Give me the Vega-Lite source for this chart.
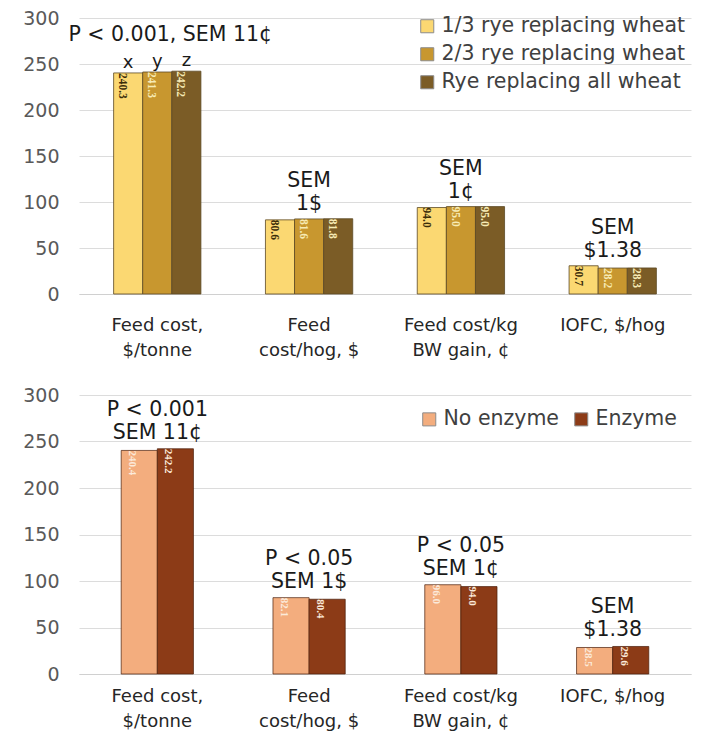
{
  "$schema": "https://vega.github.io/schema/vega-lite/v6.json",
  "background": "white",
  "padding": {"left": 22, "top": 9, "right": 5, "bottom": 5},
  "bounds": "flush",
  "spacing": 101,
  "config": {
    "view": {"stroke": null},
    "font": "DejaVu Sans",
    "axisY": {"domain": false, "ticks": false, "gridColor": "#dcdcdc", "gridWidth": 1, "labelFontSize": 19, "labelColor": "#595959", "labelPadding": 20, "title": null},
    "axisX": {"ticks": false, "domainColor": "#d0d0d0", "grid": false, "labelFontSize": 18, "labelColor": "#262626", "labelAngle": 0, "labelLineHeight": 25, "labelBaseline": "top", "title": null}
  },
  "datasets": {
    "rye": [
      {"metric": "Feed cost,|$/tonne", "series": "1/3 rye replacing wheat", "value": 240.3, "letter": "x"},
      {"metric": "Feed cost,|$/tonne", "series": "2/3 rye replacing wheat", "value": 241.3, "letter": "y"},
      {"metric": "Feed cost,|$/tonne", "series": "Rye replacing all wheat", "value": 242.2, "letter": "z"},
      {"metric": "Feed|cost/hog, $", "series": "1/3 rye replacing wheat", "value": 80.6},
      {"metric": "Feed|cost/hog, $", "series": "2/3 rye replacing wheat", "value": 81.6},
      {"metric": "Feed|cost/hog, $", "series": "Rye replacing all wheat", "value": 81.8},
      {"metric": "Feed cost/kg|BW gain, ¢", "series": "1/3 rye replacing wheat", "value": 94.0},
      {"metric": "Feed cost/kg|BW gain, ¢", "series": "2/3 rye replacing wheat", "value": 95.0},
      {"metric": "Feed cost/kg|BW gain, ¢", "series": "Rye replacing all wheat", "value": 95.0},
      {"metric": "IOFC, $/hog", "series": "1/3 rye replacing wheat", "value": 30.7},
      {"metric": "IOFC, $/hog", "series": "2/3 rye replacing wheat", "value": 28.2},
      {"metric": "IOFC, $/hog", "series": "Rye replacing all wheat", "value": 28.3}
    ],
    "ryeNotes": [
      {"metric": "Feed cost,|$/tonne", "note": "P < 0.001, SEM 11¢"},
      {"metric": "Feed|cost/hog, $", "note": "SEM\n1$"},
      {"metric": "Feed cost/kg|BW gain, ¢", "note": "SEM\n1¢"},
      {"metric": "IOFC, $/hog", "note": "SEM\n$1.38"}
    ],
    "enz": [
      {"metric": "Feed cost,|$/tonne", "series": "No enzyme", "value": 240.4},
      {"metric": "Feed cost,|$/tonne", "series": "Enzyme", "value": 242.2},
      {"metric": "Feed|cost/hog, $", "series": "No enzyme", "value": 82.1},
      {"metric": "Feed|cost/hog, $", "series": "Enzyme", "value": 80.4},
      {"metric": "Feed cost/kg|BW gain, ¢", "series": "No enzyme", "value": 96.0},
      {"metric": "Feed cost/kg|BW gain, ¢", "series": "Enzyme", "value": 94.0},
      {"metric": "IOFC, $/hog", "series": "No enzyme", "value": 28.5},
      {"metric": "IOFC, $/hog", "series": "Enzyme", "value": 29.6}
    ],
    "enzNotes": [
      {"metric": "Feed cost,|$/tonne", "note": "P < 0.001\nSEM 11¢"},
      {"metric": "Feed|cost/hog, $", "note": "P < 0.05\nSEM 1$"},
      {"metric": "Feed cost/kg|BW gain, ¢", "note": "P < 0.05\nSEM 1¢"},
      {"metric": "IOFC, $/hog", "note": "SEM\n$1.38"}
    ]
  },
  "vconcat": [
    {
      "width": 612,
      "height": 276,
      "data": {"name": "rye"},
      "encoding": {
        "x": {"field": "metric", "type": "nominal",
          "scale": {"domain": ["Feed cost,|$/tonne", "Feed|cost/hog, $", "Feed cost/kg|BW gain, ¢", "IOFC, $/hog"], "paddingInner": 0.425, "paddingOuter": 0.228},
          "axis": {"labelExpr": "split(datum.label, '|')", "labelPadding": 22}},
        "y": {"field": "value", "type": "quantitative", "scale": {"domain": [0, 300]}, "axis": {"values": [0, 50, 100, 150, 200, 250, 300]}}
      },
      "layer": [
        {
          "mark": {"type": "bar", "stroke": "#5c4a26", "strokeWidth": 1, "strokeOpacity": 0.8},
          "encoding": {
            "xOffset": {"field": "series", "type": "nominal", "scale": {"domain": ["1/3 rye replacing wheat", "2/3 rye replacing wheat", "Rye replacing all wheat"], "paddingInner": 0, "paddingOuter": 0}},
            "color": {"field": "series", "type": "nominal",
              "scale": {"domain": ["1/3 rye replacing wheat", "2/3 rye replacing wheat", "Rye replacing all wheat"], "range": ["#FBD872", "#C8972F", "#7B5C26"]},
              "legend": {"orient": "none", "legendX": 338, "legendY": -2, "title": null, "symbolType": "square", "symbolSize": 170, "labelFontSize": 20.5, "labelColor": "#404040", "rowPadding": 7, "symbolStrokeColor": "#8c8c8c", "symbolStrokeWidth": 1, "labelLimit": 400}}
          }
        },
        {
          "mark": {"type": "text", "angle": 90, "align": "left", "baseline": "middle", "dy": 6, "fontSize": 11.5, "fontWeight": "bold", "font": "Liberation Sans Narrow"},
          "encoding": {
            "xOffset": {"field": "series", "type": "nominal"},
            "text": {"field": "value", "type": "quantitative", "format": ".1f"},
            "color": {"condition": {"test": "datum.series == '1/3 rye replacing wheat'", "value": "#3b2e0a"}, "value": "#f7ebb5"}
          }
        },
        {
          "transform": [{"filter": "isValid(datum.letter)"}],
          "mark": {"type": "text", "baseline": "alphabetic", "dy": -5, "fontSize": 18, "color": "#1a1a1a"},
          "encoding": {
            "xOffset": {"field": "series", "type": "nominal"},
            "text": {"field": "letter", "type": "nominal"}
          }
        },
        {
          "transform": [
            {"aggregate": [{"op": "max", "field": "value", "as": "ymax"}], "groupby": ["metric"]},
            {"lookup": "metric", "from": {"data": {"name": "ryeNotes"}, "key": "metric", "fields": ["note"]}},
            {"filter": "datum.metric == 'Feed cost,|$/tonne'"}
          ],
          "mark": {"type": "text", "baseline": "middle", "dy": -36, "dx": 13, "fontSize": 20.5, "color": "#1a1a1a"},
          "encoding": {
            "y": {"field": "ymax", "type": "quantitative"},
            "text": {"field": "note", "type": "nominal"}
          }
        },
        {
          "transform": [
            {"aggregate": [{"op": "max", "field": "value", "as": "ymax"}], "groupby": ["metric"]},
            {"lookup": "metric", "from": {"data": {"name": "ryeNotes"}, "key": "metric", "fields": ["note"]}},
            {"filter": "datum.metric != 'Feed cost,|$/tonne'"}
          ],
          "mark": {"type": "text", "baseline": "middle", "dy": -38, "fontSize": 20.5, "color": "#1a1a1a", "lineBreak": "\n", "lineHeight": 23},
          "encoding": {
            "y": {"field": "ymax", "type": "quantitative"},
            "text": {"field": "note", "type": "nominal"}
          }
        }
      ]
    },
    {
      "width": 612,
      "height": 279,
      "data": {"name": "enz"},
      "encoding": {
        "x": {"field": "metric", "type": "nominal",
          "scale": {"domain": ["Feed cost,|$/tonne", "Feed|cost/hog, $", "Feed cost/kg|BW gain, ¢", "IOFC, $/hog"], "paddingInner": 0.524, "paddingOuter": 0.278},
          "axis": {"labelExpr": "split(datum.label, '|')", "labelPadding": 13}},
        "y": {"field": "value", "type": "quantitative", "scale": {"domain": [0, 300]}, "axis": {"values": [0, 50, 100, 150, 200, 250, 300]}}
      },
      "layer": [
        {
          "mark": {"type": "bar", "stroke": "#4a1e0a", "strokeWidth": 1, "strokeOpacity": 0.7},
          "encoding": {
            "xOffset": {"field": "series", "type": "nominal", "scale": {"domain": ["No enzyme", "Enzyme"], "paddingInner": 0, "paddingOuter": 0}},
            "color": {"field": "series", "type": "nominal",
              "scale": {"domain": ["No enzyme", "Enzyme"], "range": ["#F3AD7E", "#8C3B17"]},
              "legend": {"orient": "none", "direction": "horizontal", "legendX": 340, "legendY": 14, "title": null, "symbolType": "square", "symbolSize": 170, "labelFontSize": 20.5, "labelColor": "#404040", "columnPadding": 12, "symbolStrokeColor": "#8c8c8c", "symbolStrokeWidth": 1, "labelLimit": 300}}
          }
        },
        {
          "mark": {"type": "text", "angle": 90, "align": "left", "baseline": "middle", "dy": 7, "fontSize": 11, "fontWeight": "bold", "font": "Liberation Sans Narrow", "color": "#fbeadb"},
          "encoding": {
            "xOffset": {"field": "series", "type": "nominal"},
            "text": {"field": "value", "type": "quantitative", "format": ".1f"}
          }
        },
        {
          "transform": [
            {"aggregate": [{"op": "max", "field": "value", "as": "ymax"}], "groupby": ["metric"]},
            {"lookup": "metric", "from": {"data": {"name": "enzNotes"}, "key": "metric", "fields": ["note"]}}
          ],
          "mark": {"type": "text", "baseline": "middle", "dy": -39, "fontSize": 20.5, "color": "#1a1a1a", "lineBreak": "\n", "lineHeight": 23},
          "encoding": {
            "y": {"field": "ymax", "type": "quantitative"},
            "text": {"field": "note", "type": "nominal"}
          }
        }
      ]
    }
  ],
  "resolve": {"scale": {"color": "independent", "xOffset": "independent", "x": "independent"}}
}
